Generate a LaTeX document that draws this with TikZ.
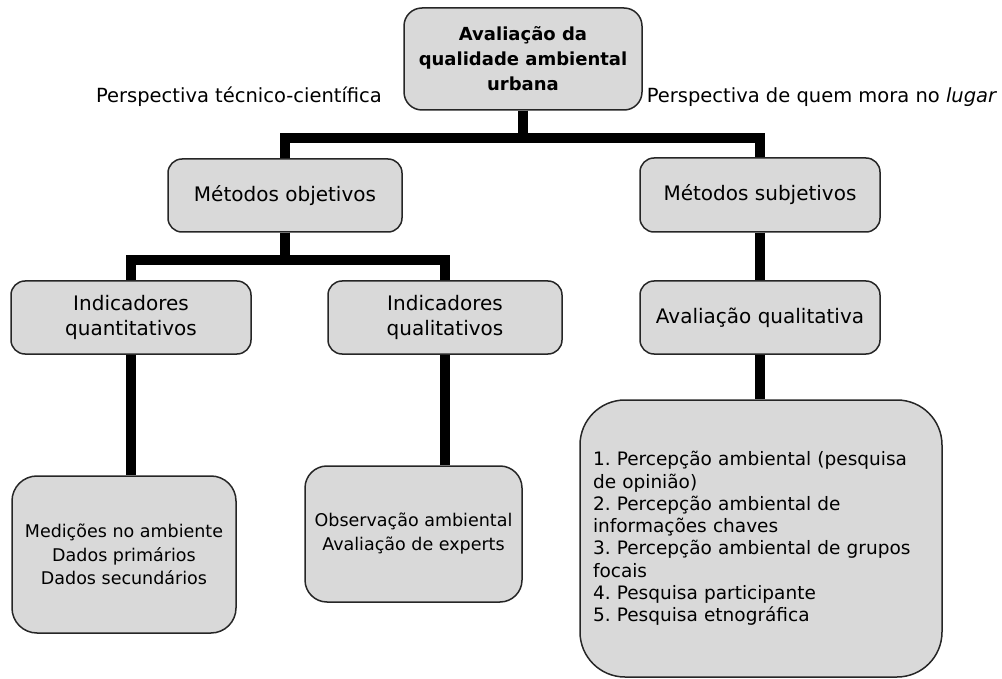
\documentclass[tikz,border=0pt]{standalone}
\usepackage{fontspec}
\setmainfont{DejaVu Sans}
\usepackage{tikz}
\usetikzlibrary{calc}
\usetikzlibrary{positioning}
\frenchspacing
\tikzset{
  myline/.style={
    draw=black,
    line width=10pt,
  },
  mybox/.style={
    draw=black!85,
    fill=gray!30,
    shape=rectangle,
    line width=1.5pt,
    rounded corners=14pt,
    align=center,
    inner sep=0pt,
    font=\fontsize{20}{25}\selectfont
  },
  mylabel/.style={
    inner sep=0pt,
    font=\fontsize{19.5}{24}\selectfont
  }
}

\begin{document}
\begin{tikzpicture}[x=1pt, y=-1pt]
    \useasboundingbox (0,0) rectangle (1002,679);

    \node [mybox, minimum width=238, minimum height=102, rounded corners=18pt, font=\bfseries\fontsize{18}{25}\selectfont] (Aval) at (523, 59) {Avaliação da\\qualidade ambiental\\urbana};
    \node [mylabel] (PTec) at (239, 97) {Perspectiva técnico-científica};
    \node [mylabel] (PMora) at (822, 97) {Perspectiva de quem mora no \textit{lugar}};

    \node [mybox, minimum width=234, minimum height=73] (MObj) at (285, 195.5) {Métodos objetivos};
    \node [mybox, minimum width=240, minimum height=74] (MSub) at (760, 195) {Métodos subjetivos};
    \draw [myline] (Aval.south) -- ++(0,27) -| (MObj.north);
    \draw [myline] (Aval.south) -- ++(0,27) -| (MSub.north);


    \node [mybox, minimum width=240, minimum height=73] (IQuant) at (131, 317.5) {Indicadores\\quantitativos};
    \node [mybox, minimum width=234, minimum height=73] (IQual) at (445, 317.5) {Indicadores\\qualitativos};
    \node [mybox, minimum width=240, minimum height=73] (AvalQ) at (760, 317.5) {Avaliação qualitativa};
    \draw [myline] (MObj.south) -- ++(0,27) -| (IQuant.north);
    \draw [myline] (MObj.south) -- ++(0,27) -| (IQual.north);
    \draw [myline] (MSub.south) -- (AvalQ.north);

    \node [mybox, minimum width=224, minimum height=157, rounded corners=25pt, font=\fontsize{17.5}{23.5}\selectfont] (Medicoes) at (124, 554.5) {Medições no ambiente\\Dados primários\\Dados secundários};
    \node [mybox, minimum width=217, minimum height=136, rounded corners=22pt, font=\fontsize{17.5}{24}\selectfont] (Observ) at (413.5, 534) {Observação ambiental\\Avaliação de experts};
    \node [mybox, minimum width=362, minimum height=277, rounded corners=45pt, text width=336, align=left, font=\fontsize{18.5}{22.3}\selectfont] (Lista) at (761, 538.5) {1. Percepção ambiental (pesquisa\\de opinião)\\2. Percepção ambiental de\\informações chaves\\3. Percepção ambiental de grupos\\focais\\4. Pesquisa participante\\5. Pesquisa etnográfica};
    \draw [myline] (IQuant.south) -- (IQuant.south |- Medicoes.north);
    \draw [myline] (IQual.south) -- (IQual.south |- Observ.north);
    \draw [myline] (AvalQ.south) -- (AvalQ.south |- Lista.north);

  \end{tikzpicture}
\end{document}
